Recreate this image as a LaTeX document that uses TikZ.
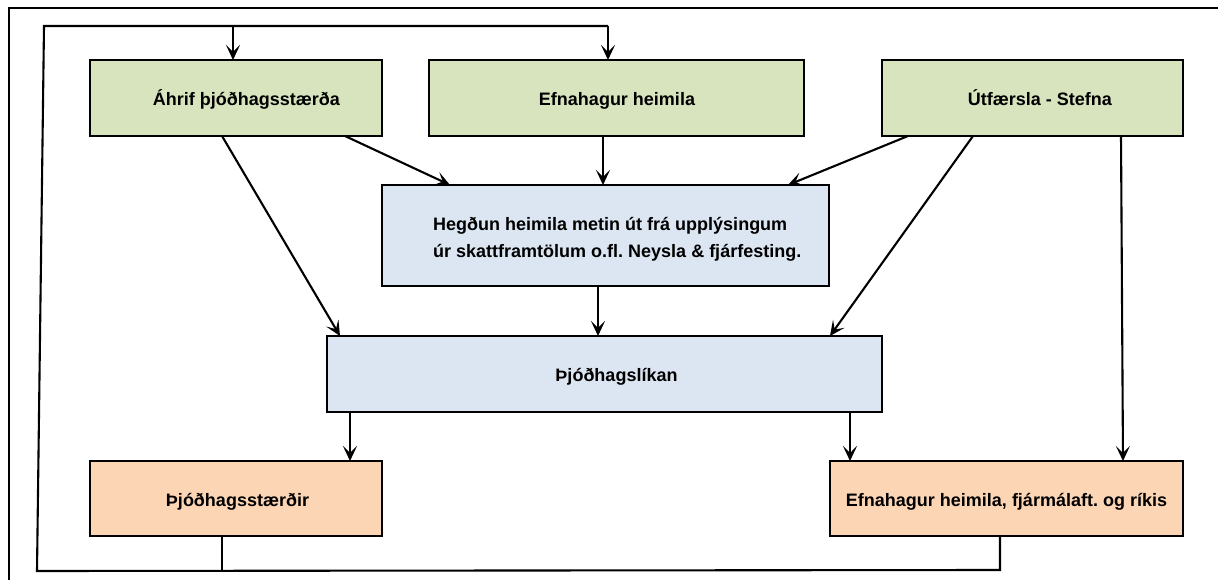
\documentclass[tikz,border=0pt]{standalone}
\usepackage{fontspec}
\setmainfont{Liberation Sans}
\usetikzlibrary{arrows.meta,calc}
\definecolor{boxgreen}{RGB}{215,228,189}
\definecolor{boxblue}{RGB}{220,230,242}
\definecolor{boxorange}{RGB}{252,213,181}
\frenchspacing
\begin{document}
\begin{tikzpicture}[x=1pt,y=-1pt,
  box/.style={draw=black, line width=2.6pt, inner sep=0pt, outer sep=0pt, anchor=north west},
  lbl/.style={font=\fontsize{18}{26}\selectfont\bfseries, anchor=base, inner sep=0pt},
  arr/.style={line width=2.1pt, -{Stealth[length=15pt,width=14pt,inset=7pt]}},
  ln/.style={line width=2.1pt}]
\useasboundingbox (0,0) rectangle (1218,580);
% frame
\draw[line width=2.4pt] (9,580) -- (9,8) -- (1218,8);
% boxes
\node[box, fill=boxgreen, minimum width=292pt, minimum height=76pt] (b1) at (90,60) {};
\node[box, fill=boxgreen, minimum width=375pt, minimum height=76pt] (b2) at (429,60) {};
\node[box, fill=boxgreen, minimum width=301pt, minimum height=76pt] (b3) at (882,60) {};
\node[box, fill=boxblue, minimum width=447pt, minimum height=101pt] (b4) at (382,185) {};
\node[box, fill=boxblue, minimum width=555pt, minimum height=76pt] (b5) at (327,336) {};
\node[box, fill=boxorange, minimum width=292pt, minimum height=75pt] (b6) at (90,461) {};
\node[box, fill=boxorange, minimum width=353pt, minimum height=75pt] (b7) at (830,461) {};
% texts
\node[lbl] (t1) at (246.5,106) {Áhrif þjóðhagsstærða};
\node[lbl] (t2) at (617,106) {Efnahagur heimila};
\node[lbl] (t3) at (1040,106) {Útfærsla - Stefna};
\node[lbl, anchor=base west] (t4a) at (433,231) {Hegðun heimila metin út frá upplýsingum};
\node[lbl, anchor=base west] (t4b) at (433,257) {úr skattframtölum o.fl. Neysla \& fjárfesting.};
\node[lbl] (t5) at (616.5,381) {Þjóðhagslíkan};
\node[lbl] (t6) at (237.5,506) {Þjóðhagsstærðir};
\node[lbl] (t7) at (1006.5,506) {Efnahagur heimila, fjármálaft. og ríkis};
% arrows
\draw[arr] ($(b1.south west)+(132,0)$) -- ($(b5.north west)+(13,0)$);
\draw[arr] ($(b1.south west)+(255,0)$) -- ($(b4.north west)+(68,0)$);
\draw[arr] ($(b2.south west)+(174,0)$) -- ($(b4.north west)+(221,0)$);
\draw[arr] ($(b3.south west)+(26,0)$) -- ($(b4.north west)+(406,0)$);
\draw[arr] ($(b3.south west)+(91,0)$) -- ($(b5.north west)+(503,0)$);
\draw[arr] ($(b3.south west)+(239,0)$) -- ($(b7.north west)+(293,0)$);
\draw[arr] ($(b4.south west)+(216,0)$) -- ($(b5.north west)+(271,0)$);
\draw[arr] ($(b5.south west)+(23,0)$) -- ($(b6.north west)+(260,0)$);
\draw[arr] ($(b5.south west)+(523,0)$) -- ($(b7.north west)+(20,0)$);
% feedback loop
\coordinate (lbr) at (1000,570);
\coordinate (lb6) at (222,570);
\coordinate (lbl) at (37,571);
\coordinate (ltl) at (44,26);
\coordinate (lt1) at (233,26);
\coordinate (lt2) at (608,26);
\draw[ln] ($(b6.south west)+(132,0)$) -- (lb6);
\draw[ln, line join=miter] ($(b7.south west)+(170,0)$) -- (lbr) -- (lbl) -- (ltl) -- (lt2);
\draw[arr] (lt2) -- ($(b2.north west)+(179,0)$);
\draw[arr] (lt1) -- ($(b1.north west)+(143,0)$);
\end{tikzpicture}
\end{document}
